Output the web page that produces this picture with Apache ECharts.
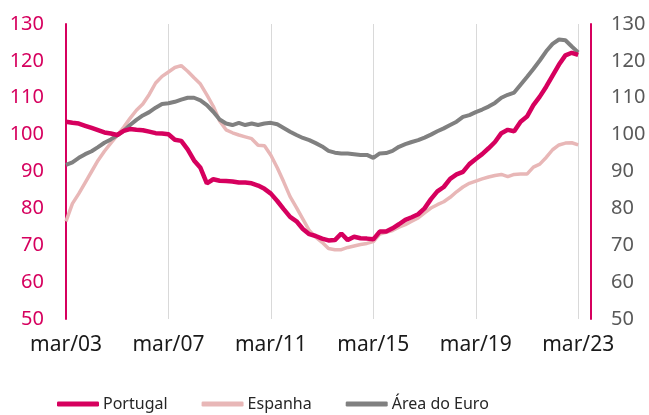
<!DOCTYPE html>
<html>
<head>
<meta charset="utf-8">
<script src="https://cdn.jsdelivr.net/npm/echarts@6/dist/echarts.min.js"></script>
<style>
  html, body { margin: 0; padding: 0; background: #fff; }
  #chart { width: 649px; height: 415px; }
</style>
</head>
<body>
<div id="chart"></div>
<script>
// quarterly, mar/03 .. set/23
const months = ['mar', 'jun', 'set', 'dez']
const categories = []
for (let y = 3; y <= 23; y++) {
  for (const m of months) {
    if (y === 23 && m === 'dez') break
    categories.push(m + '/' + String(y).padStart(2, '0'))
  }
}

const portugal = [
  103.5, 103.2, 103.0, 102.4, 101.8, 101.2, 100.6, 100.3, 99.9, 101.0,
  101.5, 101.3, 101.2, 100.8, 100.4, 100.3, 100.1, 98.6, 98.3, 96.0,
  93.0, 91.0, 86.8, 87.9, 87.5, 87.4, 87.3, 87.0, 87.0, 86.8,
  86.2, 85.3, 84.0, 82.0, 79.8, 77.7, 76.5, 74.4, 73.0, 72.5,
  71.8, 71.3, 71.4, 73.2, 71.4, 72.3, 71.9, 71.8, 71.6, 73.7,
  73.7, 74.6, 75.7, 76.9, 77.6, 78.4, 80.0, 82.5, 84.6, 85.8,
  88.0, 89.2, 89.9, 92.0, 93.4, 94.7, 96.3, 98.0, 100.4, 101.3,
  100.9, 103.5, 104.9, 108.0, 110.3, 113.0, 116.0, 119.0, 121.5, 122.2,
  121.6
]

const espanha = [
  76.5, 81.3, 84.0, 87.0, 90.0, 93.0, 95.5, 97.7, 99.8, 102.0,
  104.4, 106.6, 108.3, 110.9, 114.0, 115.8, 117.0, 118.2, 118.7, 117.2,
  115.4, 113.7, 110.8, 107.7, 103.7, 101.3, 100.5, 99.9, 99.4, 98.9,
  97.1, 97.0, 94.4, 91.0, 87.2, 83.2, 80.2, 77.1, 74.0, 72.2,
  70.8, 69.1, 68.8, 68.8, 69.4, 69.8, 70.2, 70.5, 71.0, 73.0,
  73.5, 74.0, 74.9, 75.6, 76.5, 77.4, 78.8, 80.1, 81.0, 81.8,
  83.0, 84.5, 85.8, 86.8, 87.4, 88.0, 88.5, 88.9, 89.2, 88.6,
  89.2, 89.3, 89.3, 91.2, 92.0, 93.8, 95.9, 97.2, 97.7, 97.8,
  97.2
]

const areaEuro = [
  91.8, 92.5, 93.7, 94.7, 95.5, 96.6, 97.8, 98.7, 99.8, 101.0,
  102.6, 104.0, 105.2, 106.1, 107.3, 108.3, 108.5, 108.9, 109.5, 110.0,
  110.0, 109.3, 108.0, 106.2, 104.1, 103.0, 102.6, 103.2, 102.6, 103.0,
  102.6, 103.0, 103.2, 102.8, 101.8, 100.8, 99.9, 99.1, 98.5, 97.7,
  96.8, 95.6, 95.1, 94.9, 94.9, 94.7, 94.5, 94.5, 93.7, 94.9,
  95.0, 95.6, 96.7, 97.4, 98.0, 98.5, 99.2, 100.0, 100.9, 101.7,
  102.6, 103.5, 104.8, 105.3, 106.1, 106.8, 107.6, 108.6, 110.0, 110.8,
  111.4, 113.5, 115.6, 117.8, 120.1, 122.6, 124.6, 125.8, 125.6, 123.9,
  122.3
]

const pink = '#D6005E'
const lightPink = '#E8B7B7'
const grey = '#808080'
const font = 'Noto Sans'

let myChart = echarts.init(document.getElementById('chart'))

myChart.setOption({
  animation: false,
  textStyle: { fontFamily: font },
  grid: { left: 66, right: 58, top: 24, bottom: 96 },
  legend: {
    left: 52,
    top: 391,
    icon: 'roundRect',
    itemWidth: 42,
    itemHeight: 5,
    itemGap: 34,
    data: ['Portugal', 'Espanha', 'Área do Euro'],
    textStyle: { fontSize: 16, color: '#262626', fontFamily: font, padding: [0, 0, 0, -1] }
  },
  xAxis: {
    type: 'category',
    data: categories,
    boundaryGap: false,
    axisLine: { show: false },
    axisTick: { show: false },
    axisLabel: { interval: 15, fontSize: 21, color: '#1a1a1a', margin: 16 },
    splitLine: { show: true, interval: 15, lineStyle: { color: '#d9d9d9', width: 1 } }
  },
  yAxis: [
    {
      type: 'value',
      min: 50, max: 130, interval: 10,
      axisLine: { show: true, lineStyle: { color: pink, width: 2 } },
      axisTick: { show: false },
      splitLine: { show: false },
      axisLabel: { fontSize: 20, color: pink, margin: 22 }
    },
    {
      type: 'value',
      position: 'right',
      min: 50, max: 130, interval: 10,
      axisLine: { show: true, lineStyle: { color: pink, width: 2 } },
      axisTick: { show: false },
      splitLine: { show: false },
      axisLabel: { fontSize: 20, color: '#595959', margin: 20 }
    }
  ],
  series: [
    {
      name: 'Espanha',
      type: 'line',
      data: espanha,
      showSymbol: false,
      symbol: 'none',
      lineStyle: { color: lightPink, width: 3.5 },
      itemStyle: { color: lightPink }
    },
    {
      name: 'Área do Euro',
      type: 'line',
      data: areaEuro,
      showSymbol: false,
      symbol: 'none',
      lineStyle: { color: grey, width: 4 },
      itemStyle: { color: grey }
    },
    {
      name: 'Portugal',
      type: 'line',
      data: portugal,
      showSymbol: false,
      symbol: 'none',
      lineStyle: { color: pink, width: 4.5 },
      itemStyle: { color: pink }
    }
  ]
})
</script>
</body>
</html>
